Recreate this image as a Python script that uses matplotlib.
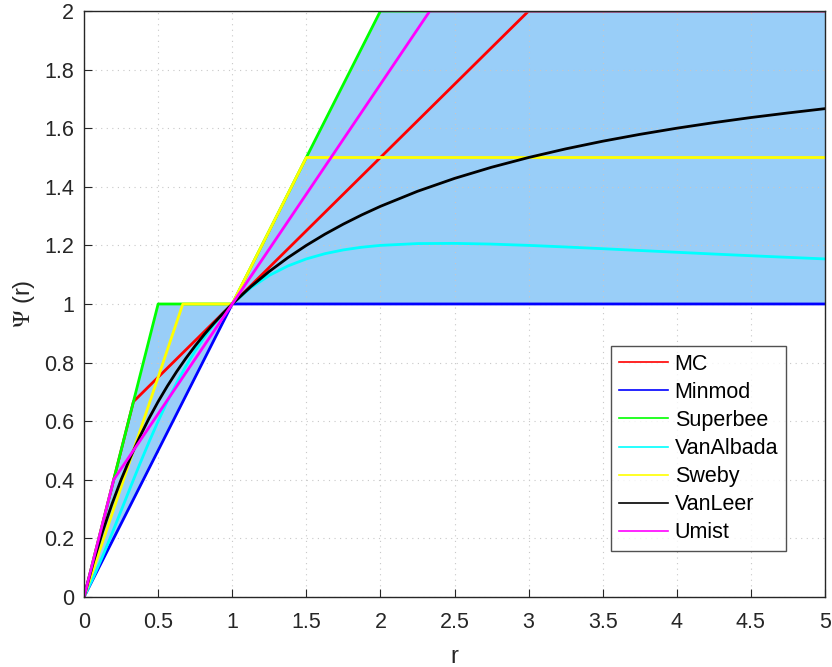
import matplotlib
matplotlib.use('Agg')
from matplotlib import pyplot as plt

plt.rcParams['font.family'] = ['Liberation Sans', 'DejaVu Sans']
plt.rcParams['mathtext.fontset'] = 'stix'

# piecewise-linear limiters (breakpoints)
mc_r = [0, 1/3, 3, 5]
mc_psi = [0, 2/3, 2, 2]
minmod_r = [0, 1, 5]
minmod_psi = [0, 1, 1]
superbee_r = [0, 0.5, 1, 2, 5]
superbee_psi = [0, 1, 1, 2, 2]
sweby_r = [0, 2/3, 1, 1.5, 5]
sweby_psi = [0, 1, 1, 1.5, 1.5]
umist_r = [0, 0.2, 7/3, 5]
umist_psi = [0, 0.4, 2, 2]

# smooth limiters, sampled points
smooth_r = [0, 0.0625, 0.125, 0.1875, 0.25, 0.3125, 0.375, 0.4375, 0.5, 0.5625,
            0.625, 0.6875, 0.75, 0.8125, 0.875, 0.9375, 1, 1.125, 1.25, 1.375,
            1.5, 1.625, 1.75, 1.875, 2, 2.25, 2.5, 2.75, 3, 3.25, 3.5, 3.75, 4,
            4.25, 4.5, 4.75, 5]
vanalbada_psi = [0, 0.0661, 0.1385, 0.2151, 0.2941, 0.3737, 0.4521, 0.5279, 0.6,
                 0.6677, 0.7303, 0.7878, 0.84, 0.8871, 0.9292, 0.9667, 1.0,
                 1.0552, 1.0976, 1.1297, 1.1538, 1.1717, 1.1846, 1.1938, 1.2,
                 1.2062, 1.2069, 1.2044, 1.2, 1.1946, 1.1887, 1.1826, 1.1765,
                 1.1705, 1.1647, 1.1592, 1.1538]
vanleer_psi = [0, 0.1176, 0.2222, 0.3158, 0.4, 0.4762, 0.5455, 0.6087, 0.6667,
               0.72, 0.7692, 0.8148, 0.8571, 0.8966, 0.9333, 0.9677, 1.0, 1.0588,
               1.1111, 1.1579, 1.2, 1.2381, 1.2727, 1.3043, 1.3333, 1.3846,
               1.4286, 1.4667, 1.5, 1.5294, 1.5556, 1.5789, 1.6, 1.619, 1.6364,
               1.652, 1.6667]

labels = ['MC', 'Minmod', 'Superbee', 'VanAlbada', 'Sweby', 'VanLeer', 'Umist']
colors = ['#ff0000', '#0000ff', '#00ff00', '#00ffff', '#ffff00', '#000000', '#ff00ff']

fig = plt.figure(figsize=(8.32, 6.67), dpi=100)
ax = fig.add_axes([0.101, 0.105, 0.8906, 0.8785])

# TVD region between minmod and superbee
fill_r = [0, 0.5, 1, 2, 5]
fill_lo = [0, 0.5, 1, 1, 1]
fill_hi = [0, 1, 1, 2, 2]
ax.fill_between(fill_r, fill_lo, fill_hi, color='#99cef8', lw=0, zorder=1)

series = [(mc_r, mc_psi), (minmod_r, minmod_psi), (superbee_r, superbee_psi),
          (smooth_r, vanalbada_psi), (sweby_r, sweby_psi), (smooth_r, vanleer_psi),
          (umist_r, umist_psi)]
for (x, y), lab, c in zip(series, labels, colors):
    ax.plot(x, y, color=c, lw=2, label=lab, zorder=3)

ax.set_xlim(0, 5)
ax.set_ylim(0, 2)
ax.set_xticks([0, 0.5, 1, 1.5, 2, 2.5, 3, 3.5, 4, 4.5, 5])
ax.set_xticklabels(['0', '0.5', '1', '1.5', '2', '2.5', '3', '3.5', '4', '4.5', '5'])
ax.set_yticks([0, 0.2, 0.4, 0.6, 0.8, 1, 1.2, 1.4, 1.6, 1.8, 2])
ax.set_yticklabels(['0', '0.2', '0.4', '0.6', '0.8', '1', '1.2', '1.4', '1.6', '1.8', '2'])
ax.tick_params(direction='in', labelsize=15.5, length=6, color='#262626', labelcolor='#262626')
ax.tick_params(axis='x', pad=11)
ax.tick_params(axis='y', pad=7)
ax.grid(True, ls=(0, (1, 4)), color='#c8c8c8', lw=0.8, zorder=2)
ax.set_axisbelow(False)
for s in ax.spines.values():
    s.set_color('#262626')
    s.set_linewidth(1.0)
    s.set_zorder(5)

ax.set_xlabel('r', fontsize=17, color='#262626', labelpad=9.5)
ax.set_ylabel(r'$\Psi$ (r)', fontsize=17, color='#262626', labelpad=5)

leg = ax.legend(loc='lower right', bbox_to_anchor=(0.947, 0.0785), borderaxespad=0,
                fontsize=15.5, frameon=True, fancybox=False, edgecolor='#262626',
                handlelength=2.3, handletextpad=0.3, labelspacing=0.33, borderpad=0.35)
leg.get_frame().set_linewidth(1.0)
for l in leg.get_lines():
    l.set_linewidth(1.2)

plt.savefig('out.png', dpi=100)
